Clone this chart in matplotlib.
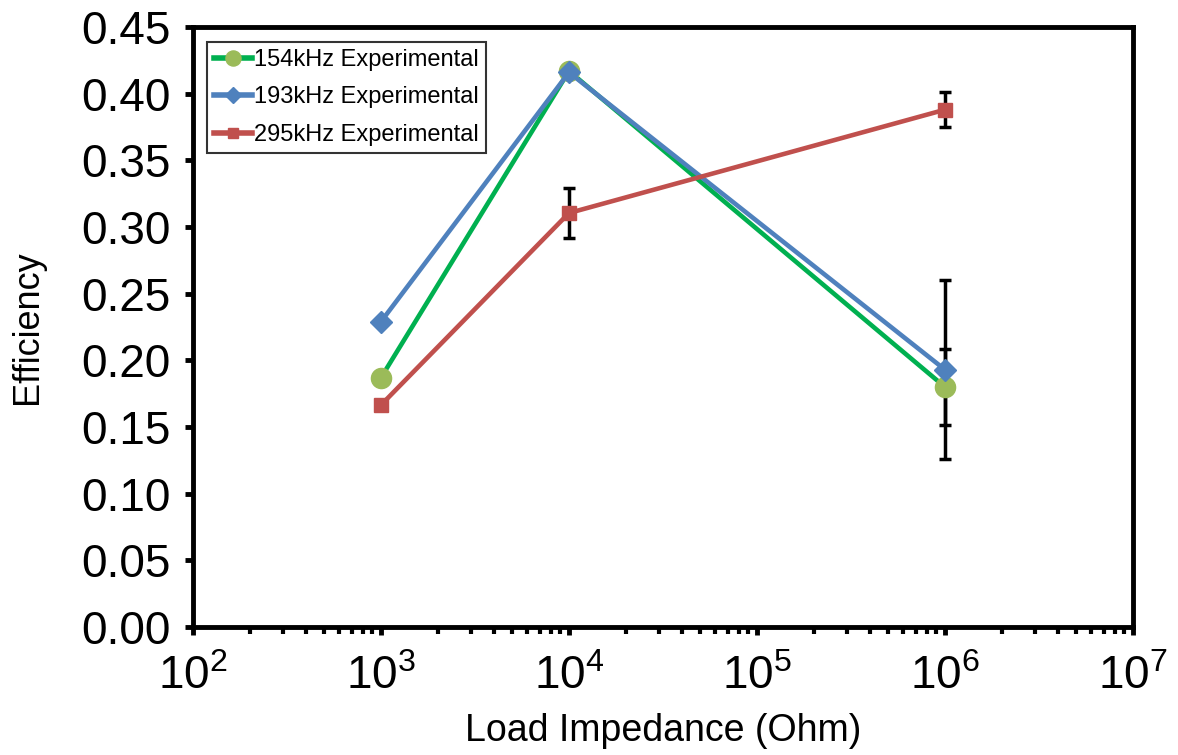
import matplotlib.pyplot as plt
from matplotlib.ticker import LogLocator, NullFormatter

plt.rcParams['font.family'] = ['Liberation Sans', 'DejaVu Sans']
plt.rcParams['mathtext.fontset'] = 'custom'
plt.rcParams['mathtext.rm'] = 'Liberation Sans'
plt.rcParams['mathtext.it'] = 'Liberation Sans'
plt.rcParams['mathtext.default'] = 'regular'

# data
impedance = [1e3, 1e4, 1e6]
eff_154 = [0.187, 0.417, 0.180]
eff_193 = [0.229, 0.416, 0.193]
eff_295 = [0.1665, 0.3105, 0.388]
err_154 = [0.0, 0.0, 0.0285]
err_193 = [0.0, 0.0, 0.067]
err_295 = [0.0, 0.019, 0.013]

labels = ['154kHz Experimental', '193kHz Experimental', '295kHz Experimental']

fig = plt.figure(figsize=(11.78, 7.55), dpi=100)
ax = fig.add_axes([0.1638, 0.1695, 0.798, 0.7947])

# error bars first, behind the series
for y, e in [(eff_154, err_154), (eff_193, err_193), (eff_295, err_295)]:
    xs = [x for x, v in zip(impedance, e) if v > 0]
    ys = [yy for yy, v in zip(y, e) if v > 0]
    es = [v for v in e if v > 0]
    ax.errorbar(xs, ys, yerr=es, fmt='none', ecolor='black', elinewidth=2.5,
                capsize=4, capthick=2.5, zorder=2)

ax.plot(impedance, eff_154, color='#00B050', lw=3.3, marker='o', ms=14.5,
        mfc='#9BBB59', mec='#9BBB59', label=labels[0], zorder=3)
ax.plot(impedance, eff_193, color='#4F81BD', lw=3.3, marker='D', ms=11.5,
        mfc='#4F81BD', mec='#4F81BD', label=labels[1], zorder=4)
ax.plot(impedance, eff_295, color='#C0504D', lw=3.3, marker='s', ms=10.5,
        mfc='#C0504D', mec='#C0504D', label=labels[2], zorder=5)

ax.set_xscale('log')
ax.set_xlim(1e2, 1e7)
ax.set_ylim(0, 0.45)
ax.set_yticks([i * 0.05 for i in range(10)])
ax.yaxis.set_major_formatter(plt.FormatStrFormatter('%.2f'))
ax.xaxis.set_major_locator(LogLocator(base=10, numticks=10))
ax.xaxis.set_minor_locator(LogLocator(base=10, subs=range(2, 10), numticks=20))
ax.xaxis.set_minor_formatter(NullFormatter())

for s in ax.spines.values():
    s.set_linewidth(3.5)
ax.tick_params(axis='both', which='major', direction='out', length=6, width=3.5,
               labelsize=33)
ax.tick_params(axis='y', which='major', pad=10)
ax.tick_params(axis='x', which='major', pad=14)
ax.tick_params(axis='x', which='minor', direction='out', length=5, width=3)

ax.set_xlabel('Load Impedance (Ohm)', fontsize=27, labelpad=10)
ax.set_ylabel('Efficiency', fontsize=26, labelpad=26)

leg = ax.legend(loc='upper left', bbox_to_anchor=(0.015, 0.975), borderaxespad=0,
                fontsize=17, frameon=True, fancybox=False, edgecolor='black',
                handlelength=1.6, handletextpad=0.1, borderpad=0.3,
                labelspacing=0.65, markerscale=0.75)
leg.get_frame().set_linewidth(1.5)
for line in leg.get_lines():
    line.set_linewidth(4)

fig.savefig('out.png', dpi=100)
